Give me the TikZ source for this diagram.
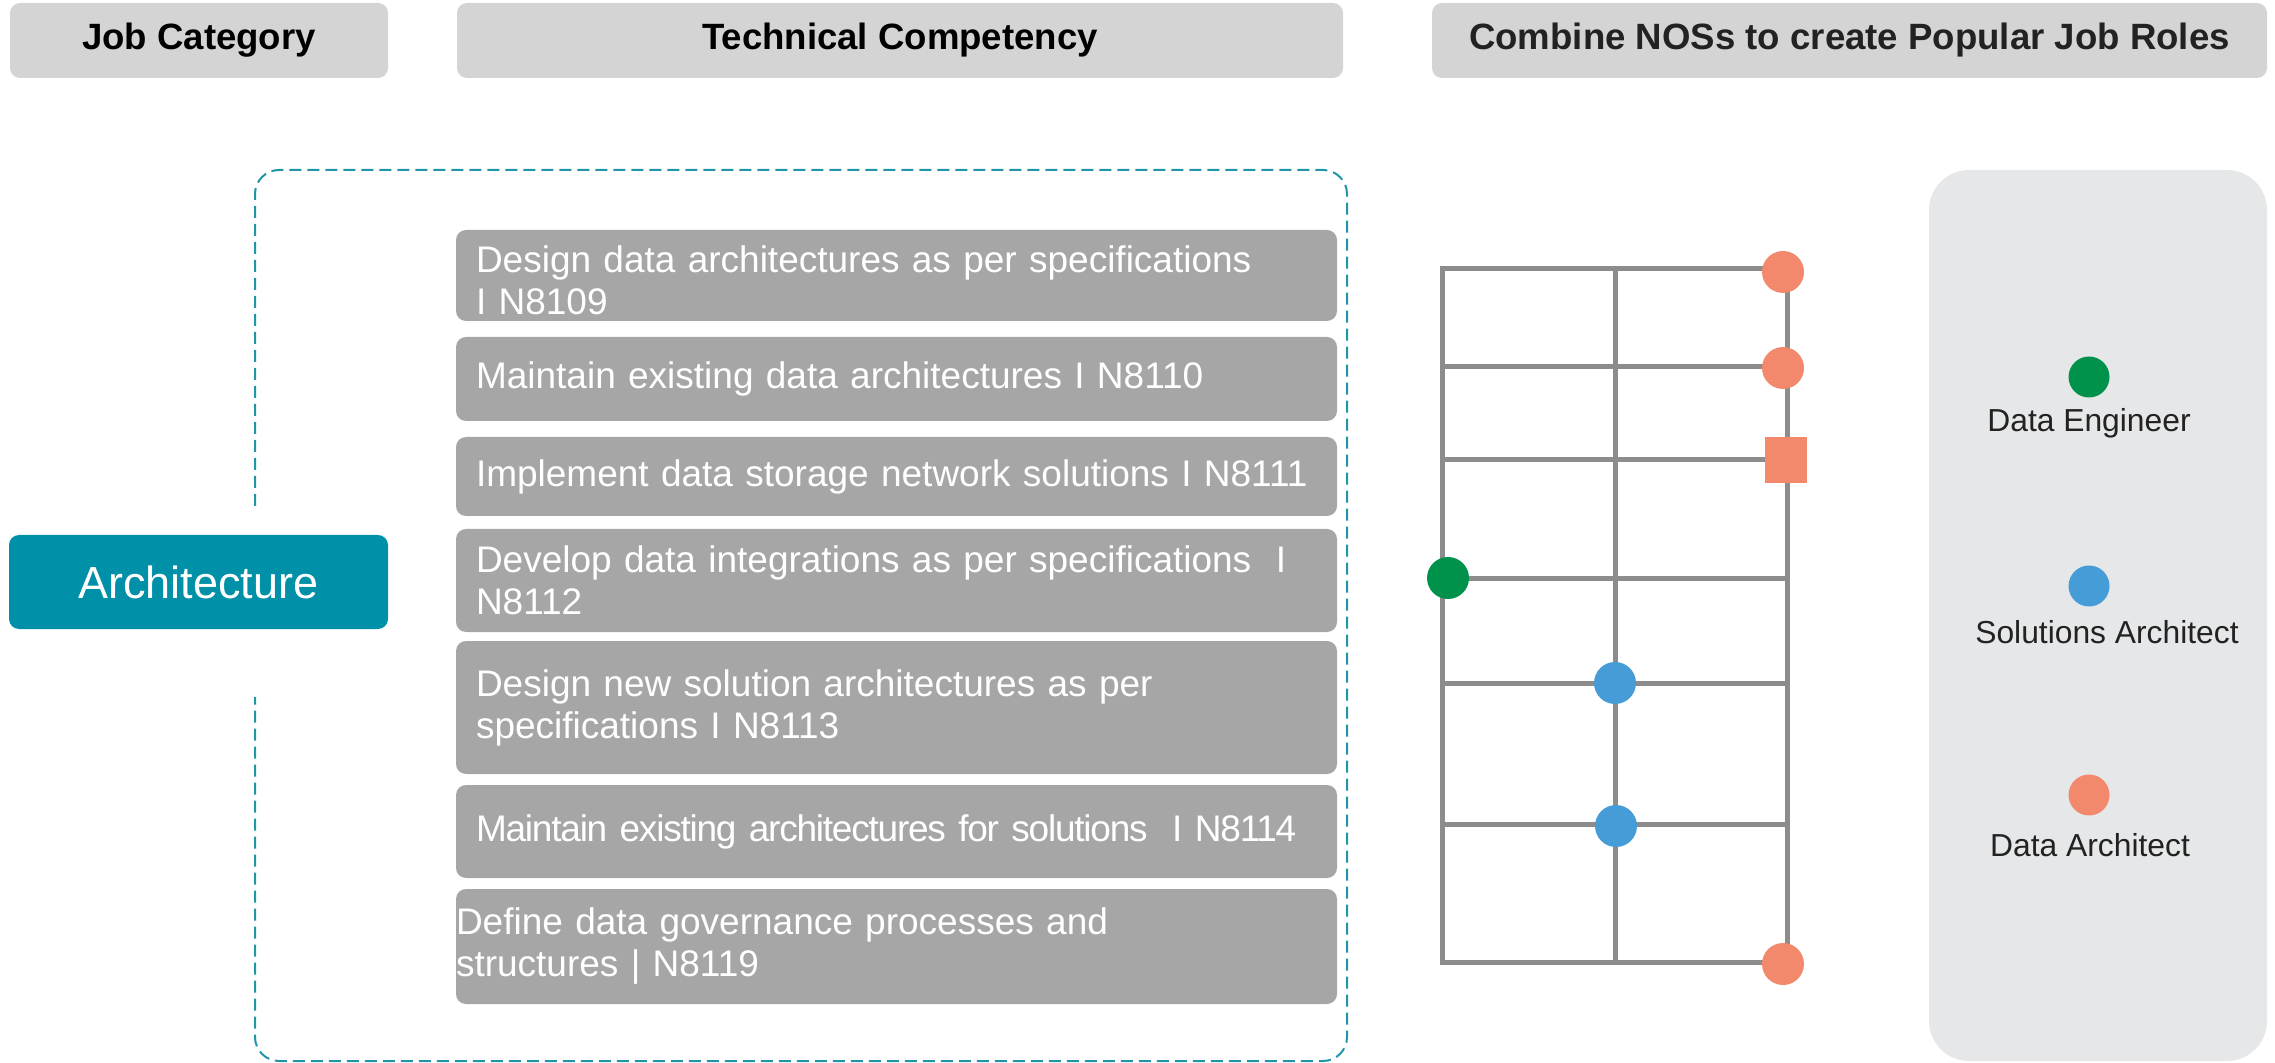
\documentclass[tikz,border=0pt]{standalone}
\usepackage{fontspec}
\setmainfont{Liberation Sans}
\definecolor{hdrgray}{HTML}{D3D4D3}
\definecolor{boxgray}{HTML}{A6A6A6}
\definecolor{teal}{HTML}{0090A7}
\definecolor{dashcol}{HTML}{1F95A7}
\definecolor{gridgray}{HTML}{8C8C8C}
\definecolor{orng}{HTML}{F3896C}
\definecolor{grn}{HTML}{00924A}
\definecolor{blu}{HTML}{459CD6}
\definecolor{panel}{HTML}{E6E7E8}
\definecolor{dark}{HTML}{222222}
\tikzset{
  hdr/.style={fill=hdrgray, rounded corners=5pt, minimum height=37.5pt, inner sep=0pt,
    font=\bfseries\fontsize{18.3}{22}\selectfont},
  comp/.style={fill=boxgray, rounded corners=5pt, text=white, text width=420.5pt,
    inner xsep=10pt, inner ysep=0pt, align=left, font=\fontsize{18.5}{21}\selectfont},
  dot/.style={circle, minimum size=21pt, inner sep=0pt},
  ldot/.style={circle, minimum size=20.5pt, inner sep=0pt},
  ltext/.style={text=dark, font=\fontsize{15.9}{19}\selectfont, inner sep=0pt},
  gridline/.style={draw=gridgray, line width=2.5pt}
}
\begin{document}
\begin{tikzpicture}[x=0.5pt,y=-0.5pt]
\useasboundingbox (0,0) rectangle (2275,1063);

% headers
\node[hdr, minimum width=189pt] (h1) at (199,40.5) {Job Category};
\node[hdr, minimum width=443pt] (h2) at (900,40.5) {Technical Competency};
\node[hdr, minimum width=417.5pt, text=dark] (h3) at (1849.5,40.5) {Combine NOSs to create Popular Job Roles};

% dashed frame
\draw[dashcol, line width=1pt, dash pattern=on 6pt off 3pt, rounded corners=12pt]
  (255,506) -- (255,170) -- (1347,170) -- (1347,1061) -- (255,1061) -- (255,697);

% job category
\node[fill=teal, rounded corners=5pt, minimum width=189.5pt, minimum height=47pt, inner sep=0pt,
  text=white, font=\fontsize{22.5}{26}\selectfont] (arch) at (198.5,582) {Architecture};

% competencies
\node[comp, minimum height=45.5pt] (c1) at (896.5,275.5) {\rule{0pt}{18pt}Design data architectures as per specifications\\I N8109};
\node[comp, minimum height=42pt] (c2) at (896.5,379) {Maintain existing data architectures I N8110};
\node[comp, minimum height=39.5pt] (c3) at (896.5,476.5) {Implement data storage network solutions I N8111};
\node[comp, minimum height=51.5pt] (c4) at (896.5,580.5) {Develop data integrations as per specifications~ I\\N8112};
\node[comp, minimum height=66.5pt] (c5) at (896.5,707.5) {Design new solution architectures as per\\specifications I N8113\\[10pt]};
\node[comp, minimum height=46.5pt] (c6) at (896.5,831.5) {\addfontfeature{LetterSpace=-3.3}Maintain existing architectures for solutions~ I N8114};
\node[comp, minimum height=57.5pt, inner xsep=0pt, text width=440.5pt] (c7) at (896.5,946.5) {Define data governance processes and\\structures | N8119\\[9pt]};

% grid
\coordinate (tl) at (1442,269);
\coordinate (tm) at (1615,269);
\coordinate (tr) at (1787,269);
\coordinate (bl) at (1442,962);
\coordinate (bm) at (1615,962);
\coordinate (br) at (1787,962);
\draw[gridline, line join=miter] (tl) -- (tr) -- (br) -- (bl) -- cycle;
\draw[gridline] (tm) -- (bm);
\foreach \yy in {367,460,579,683,824} {
  \draw[gridline] (1442,\yy) -- (1787,\yy);
}

% markers
\node[dot, fill=orng] (o1) at (1783,272) {};
\node[dot, fill=orng] (o2) at (1783,368) {};
\node[fill=orng, minimum width=21pt, minimum height=23pt, inner sep=0pt] (sq) at (1786,460) {};
\node[dot, fill=grn] (g1) at (1448,578) {};
\node[dot, fill=blu] (b1) at (1615,683) {};
\node[dot, fill=blu] (b2) at (1616,826) {};
\node[dot, fill=orng] (o3) at (1783,964) {};

% legend panel
\node[fill=panel, rounded corners=20pt, minimum width=169pt, minimum height=445.5pt, inner sep=0pt] (pan) at (2098,615.5) {};
\node[ldot, fill=grn] (lg) at (2089,377) {};
\node[ltext] (lgt) at (2089,423) {Data Engineer};
\node[ldot, fill=blu] (lb) at (2089,586) {};
\node[ltext] (lbt) at (2107,632) {Solutions Architect};
\node[ldot, fill=orng] (lo) at (2089,795) {};
\node[ltext] (lot) at (2090,845) {Data Architect};
\end{tikzpicture}
\end{document}
